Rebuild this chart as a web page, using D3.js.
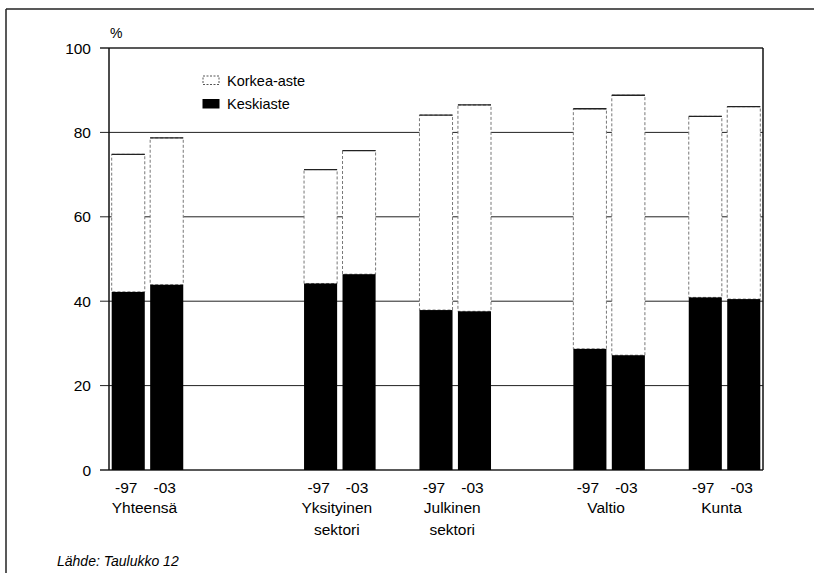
<!DOCTYPE html>
<html>
<head>
  <meta charset="utf-8">
  <script src="https://cdn.jsdelivr.net/npm/d3@7"></script>
  <style>
    body { margin: 0; background: #fff; }
    text { font-family: "Liberation Sans", Arial, sans-serif; fill: #000; }
  </style>
</head>
<body>
  <div id="chartContainer"></div>
  <script type="text/javascript">
    // data (percent)
    var groups = [["Yhteensä"], ["Yksityinen", "sektori"], ["Julkinen", "sektori"], ["Valtio"], ["Kunta"]];
    var years = ["-97", "-03"];
    var keskiaste97 = [42.2, 44.2, 37.9, 28.7, 40.9];
    var keskiaste03 = [43.9, 46.4, 37.6, 27.2, 40.5];
    var korkeaAste97 = [32.6, 27.0, 46.2, 56.9, 42.9];
    var korkeaAste03 = [34.8, 29.3, 48.9, 61.6, 45.6];
    var yTicks = [0, 20, 40, 60, 80, 100];
    var legendLabels = ["Korkea-aste", "Keskiaste"];
    var sourceText = "Lähde: Taulukko 12";

    (function () {
      var W = 814, H = 573;
      var svg = d3.select("#chartContainer").append("svg")
        .attr("width", W).attr("height", H);

      // outer frame (top + left only visible)
      svg.append("line").attr("x1", 6).attr("x2", W).attr("y1", 9).attr("y2", 9)
        .attr("stroke", "#222").attr("stroke-width", 1.5);
      svg.append("line").attr("x1", 6).attr("x2", 6).attr("y1", 9).attr("y2", H)
        .attr("stroke", "#222").attr("stroke-width", 1.5);

      var pLeft = 109, pRight = 763, pTop = 48, pBottom = 470;

      // 17 slots, groups sit at these slot indexes
      var slotOf = [0, 5, 8, 12, 15];
      var x = d3.scaleBand().domain(d3.range(17)).range([pLeft, pRight])
        .paddingInner(0.14).paddingOuter(0.07);
      var y = d3.scaleLinear().domain([0, 100]).range([pBottom, pTop]);

      // build rows for each bar
      var rows = [];
      groups.forEach(function (g, i) {
        rows.push({ g: i, yr: 0, slot: slotOf[i], kesk: keskiaste97[i], kork: korkeaAste97[i] });
        rows.push({ g: i, yr: 1, slot: slotOf[i] + 1, kesk: keskiaste03[i], kork: korkeaAste03[i] });
      });
      var stacked = d3.stack().keys(["kesk", "kork"])(rows);

      // gridlines + ticks
      svg.append("g").selectAll("line")
        .data(yTicks)
        .enter().append("line")
          .attr("x1", pLeft - 9).attr("x2", pRight)
          .attr("y1", function (d) { return y(d); })
          .attr("y2", function (d) { return y(d); })
          .attr("stroke", "#222").attr("stroke-width", function (d) { return d === 0 || d === 100 ? 1.5 : 1; });

      // axis lines
      svg.append("line").attr("x1", pLeft).attr("x2", pLeft).attr("y1", pTop).attr("y2", pBottom)
        .attr("stroke", "#111").attr("stroke-width", 1.5);
      svg.append("line").attr("x1", pRight).attr("x2", pRight).attr("y1", pTop).attr("y2", pBottom)
        .attr("stroke", "#111").attr("stroke-width", 1.5);

      // korkea-aste (white, dashed outline)
      var upper = svg.append("g").selectAll("g")
        .data(stacked[1])
        .enter().append("g");
      upper.append("rect")
        .attr("x", function (d) { return x(d.data.slot); })
        .attr("width", x.bandwidth())
        .attr("y", function (d) { return y(d[1]); })
        .attr("height", function (d) { return y(d[0]) - y(d[1]); })
        .attr("fill", "#fff")
        .attr("stroke", "#777").attr("stroke-width", 1)
        .attr("stroke-dasharray", "3,2");
      upper.append("line")
        .attr("x1", function (d) { return x(d.data.slot); })
        .attr("x2", function (d) { return x(d.data.slot) + x.bandwidth(); })
        .attr("y1", function (d) { return y(d[1]); })
        .attr("y2", function (d) { return y(d[1]); })
        .attr("stroke", "#222").attr("stroke-width", 1.3);

      // keskiaste (black)
      svg.append("g").selectAll("rect")
        .data(stacked[0])
        .enter().append("rect")
          .attr("x", function (d) { return x(d.data.slot); })
          .attr("width", x.bandwidth())
          .attr("y", function (d) { return y(d[1]); })
          .attr("height", function (d) { return y(d[0]) - y(d[1]); })
          .attr("fill", "#000");

      // y tick labels
      svg.append("g").selectAll("text")
        .data(yTicks)
        .enter().append("text")
          .attr("x", 91)
          .attr("y", function (d) { return y(d); })
          .attr("dy", "0.36em")
          .attr("text-anchor", "end")
          .style("font-size", "15.5px")
          .text(function (d) { return d; });

      svg.append("text").attr("x", 110).attr("y", 38)
        .style("font-size", "14px").text("%");

      // year labels under bars
      svg.append("g").selectAll("text")
        .data(rows)
        .enter().append("text")
          .attr("x", function (d) { return x(d.slot) + x.bandwidth() / 2 - 2; })
          .attr("y", 493)
          .attr("text-anchor", "middle")
          .style("font-size", "15.5px")
          .text(function (d) { return years[d.yr]; });

      // group labels
      var gl = svg.append("g").selectAll("text")
        .data(groups)
        .enter().append("text")
          .attr("text-anchor", "middle")
          .style("font-size", "15.5px")
          .attr("transform", function (d, i) {
            var cx = (x(slotOf[i]) + x(slotOf[i] + 1) + x.bandwidth()) / 2 - 3;
            return "translate(" + cx + ",513)";
          });
      gl.selectAll("tspan")
        .data(function (d) { return d; })
        .enter().append("tspan")
          .attr("x", 0)
          .attr("dy", function (d, i) { return i === 0 ? 0 : 22; })
          .text(function (d) { return d; });

      // legend
      var legend = svg.append("g").selectAll("g")
        .data(legendLabels)
        .enter().append("g")
          .attr("transform", function (d, i) { return "translate(203," + (76 + i * 23.5) + ")"; });
      legend.append("rect")
        .attr("width", 16).attr("height", 8.5)
        .attr("fill", function (d, i) { return i === 0 ? "#fff" : "#000"; })
        .attr("stroke", function (d, i) { return i === 0 ? "#555" : "#000"; })
        .attr("stroke-dasharray", function (d, i) { return i === 0 ? "2,1.5" : null; });
      legend.append("text")
        .attr("x", 24).attr("y", 9.5)
        .style("font-size", "14.5px")
        .text(function (d) { return d; });

      // source
      svg.append("text").attr("x", 57).attr("y", 566)
        .style("font-size", "14px").style("font-style", "italic")
        .text(sourceText);
    })();
  </script>
</body>
</html>
